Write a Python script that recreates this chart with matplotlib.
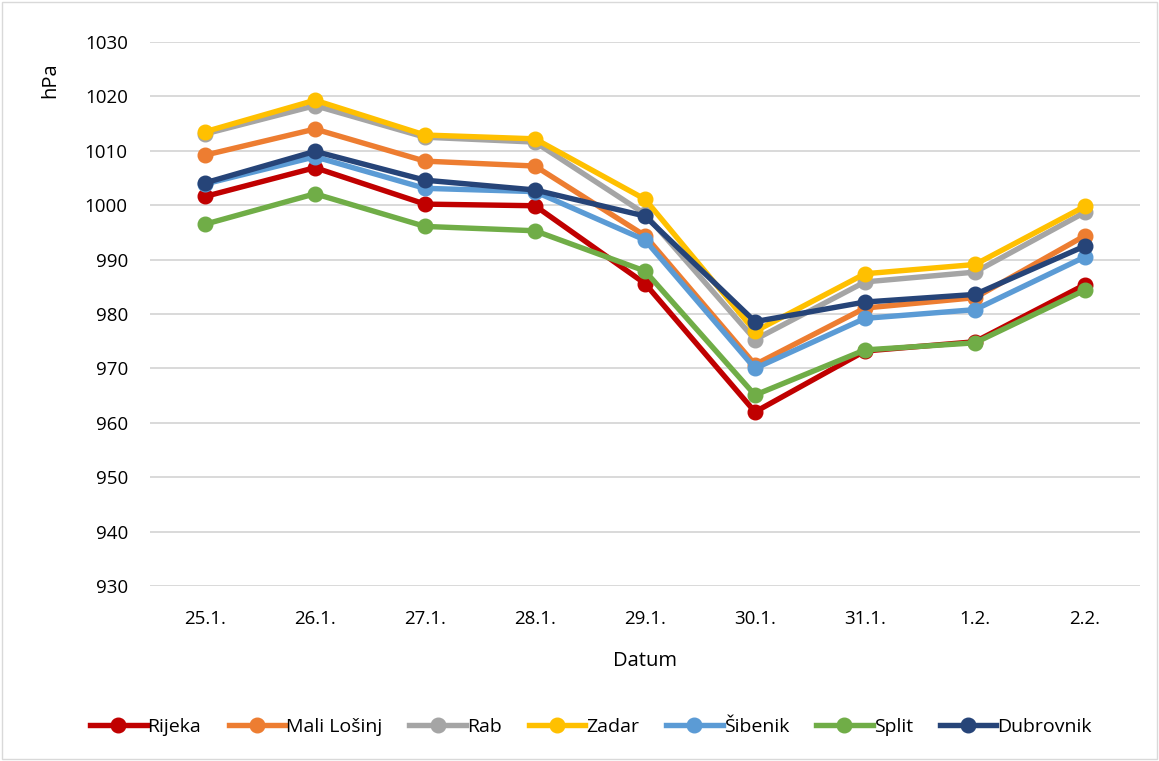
import matplotlib
matplotlib.use("Agg")
import matplotlib.pyplot as plt
from matplotlib.patches import Rectangle

plt.rcParams['font.family'] = ['Open Sans', 'DejaVu Sans']

dates = ["25.1.", "26.1.", "27.1.", "28.1.", "29.1.", "30.1.", "31.1.", "1.2.", "2.2."]
rijeka = [1001.6, 1006.9, 1000.2, 999.9, 985.6, 962.0, 973.2, 974.9, 985.4]
mali_losinj = [1009.2, 1014.0, 1008.1, 1007.2, 994.4, 970.7, 981.1, 983.0, 994.4]
rab = [1013.1, 1018.3, 1012.5, 1011.6, 998.4, 975.3, 985.9, 987.7, 998.7]
zadar = [1013.5, 1019.3, 1012.9, 1012.2, 1001.1, 976.8, 987.4, 989.1, 999.8]
sibenik = [1003.9, 1008.9, 1003.1, 1002.5, 993.6, 970.0, 979.2, 980.8, 990.5]
split = [996.5, 1002.1, 996.1, 995.3, 987.9, 965.1, 973.4, 974.7, 984.4]
dubrovnik = [1004.1, 1009.9, 1004.6, 1002.8, 998.0, 978.6, 982.2, 983.6, 992.5]

series = [
    ("Rijeka", rijeka, "#C00000"),
    ("Mali Lošinj", mali_losinj, "#ED7D31"),
    ("Rab", rab, "#A5A5A5"),
    ("Zadar", zadar, "#FFC000"),
    ("Šibenik", sibenik, "#5B9BD5"),
    ("Split", split, "#70AD47"),
    ("Dubrovnik", dubrovnik, "#264478"),
]

fig = plt.figure(figsize=(11.59, 7.61), dpi=100)
ax = fig.add_axes([150/1159, 1-586/761, 990/1159, (586-42)/761])

x = list(range(len(dates)))
for name, vals, col in series:
    ax.plot(x, vals, color=col, lw=3.9, marker='o', markersize=10.5, label=name,
            solid_joinstyle='round', zorder=3)

ax.set_ylim(930, 1030)
ax.set_xlim(-0.5, len(dates) - 0.5)
ax.set_yticks(range(930, 1031, 10))
ax.set_xticks(x)
ax.set_xticklabels(dates)
ax.grid(axis='y', color='#D9D9D9', lw=1.4, zorder=0)
for s in ax.spines.values():
    s.set_visible(False)
ax.tick_params(length=0, labelsize=13.5, colors='#000000')
ax.tick_params(axis='y', pad=16)
ax.tick_params(axis='x', pad=17)
ax.set_xlabel("Datum", fontsize=14.5, labelpad=17)

fig.text(50/1159, 1-80/761, "hPa", rotation=90, ha='center', va='center', fontsize=14.5)

leg = fig.legend(loc='center', bbox_to_anchor=(591/1159, 1-727/761), ncol=7, frameon=False,
                 fontsize=14, handlelength=2.9, columnspacing=1.4, handletextpad=0.05)

fig.patches.append(Rectangle((0.002, 0.002), 0.996, 0.996, transform=fig.transFigure,
                             fill=False, edgecolor='#D9D9D9', lw=1))

fig.savefig("out.png", dpi=100, facecolor='white')
